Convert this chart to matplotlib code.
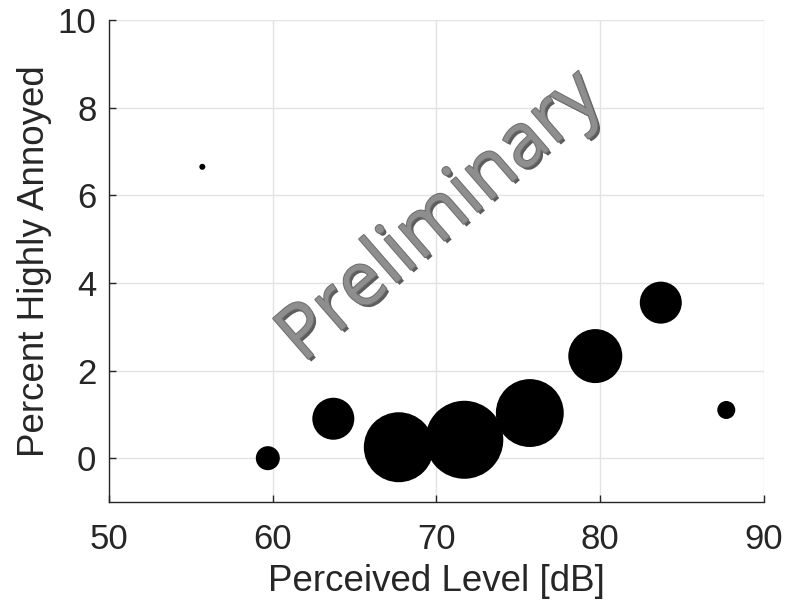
import matplotlib
matplotlib.use("Agg")
import matplotlib.pyplot as plt
import matplotlib.patheffects as pe
import numpy as np

# Data
perceived_level = [55.7, 59.7, 63.7, 67.7, 71.7, 75.7, 79.7, 83.7, 87.7]
percent_ha = [6.65, 0.0, 0.9, 0.25, 0.42, 1.03, 2.33, 3.55, 1.1]
weights = [1, 16, 49, 136, 169, 128, 81, 49, 9]   # relative bubble area

x_ticks = [50, 60, 70, 80, 90]
y_ticks = [0, 2, 4, 6, 8, 10]

plt.rcParams['font.family'] = ['Liberation Sans', 'DejaVu Sans']
txt = '#262626'

fig = plt.figure(figsize=(7.87, 6.07), dpi=100)
ax = fig.add_axes([0.1385, 0.173, 0.8322, 0.794])

ax.set_xlim(50, 90)
ax.set_ylim(-1, 10)
ax.set_xticks(x_ticks)
ax.set_yticks(y_ticks)
ax.grid(True, color='#e3e3e3', linewidth=1.0)
ax.set_axisbelow(True)

sizes = [w * (0.72 * 6) ** 2 for w in weights]
ax.scatter(perceived_level, percent_ha, s=sizes, color='black', linewidths=0, zorder=3)

for s in ['top', 'right']:
    ax.spines[s].set_visible(False)
for s in ['left', 'bottom']:
    ax.spines[s].set_color(txt)
    ax.spines[s].set_linewidth(1.0)

ax.tick_params(direction='in', length=5, width=1, colors=txt, labelsize=25)
ax.tick_params(axis='x', pad=15)
ax.tick_params(axis='y', pad=9)
ax.set_xlabel('Perceived Level [dB]', fontsize=26.5, color=txt, labelpad=6)
ax.set_ylabel('Percent Highly Annoyed', fontsize=26.5, color=txt, labelpad=4)

ax.text(0.507, 0.59, 'Preliminary', transform=ax.transAxes, rotation=41,
        ha='center', va='center', fontsize=54, color='#8e8e8e',
        family=['Open Sans', 'DejaVu Sans'], zorder=4,
        path_effects=[pe.SimplePatchShadow(offset=(2, -2), shadow_rgbFace='#4a4a4a', alpha=0.9),
                      pe.withStroke(linewidth=1.5, foreground='#707070')])

fig.savefig('out.png', dpi=100)
